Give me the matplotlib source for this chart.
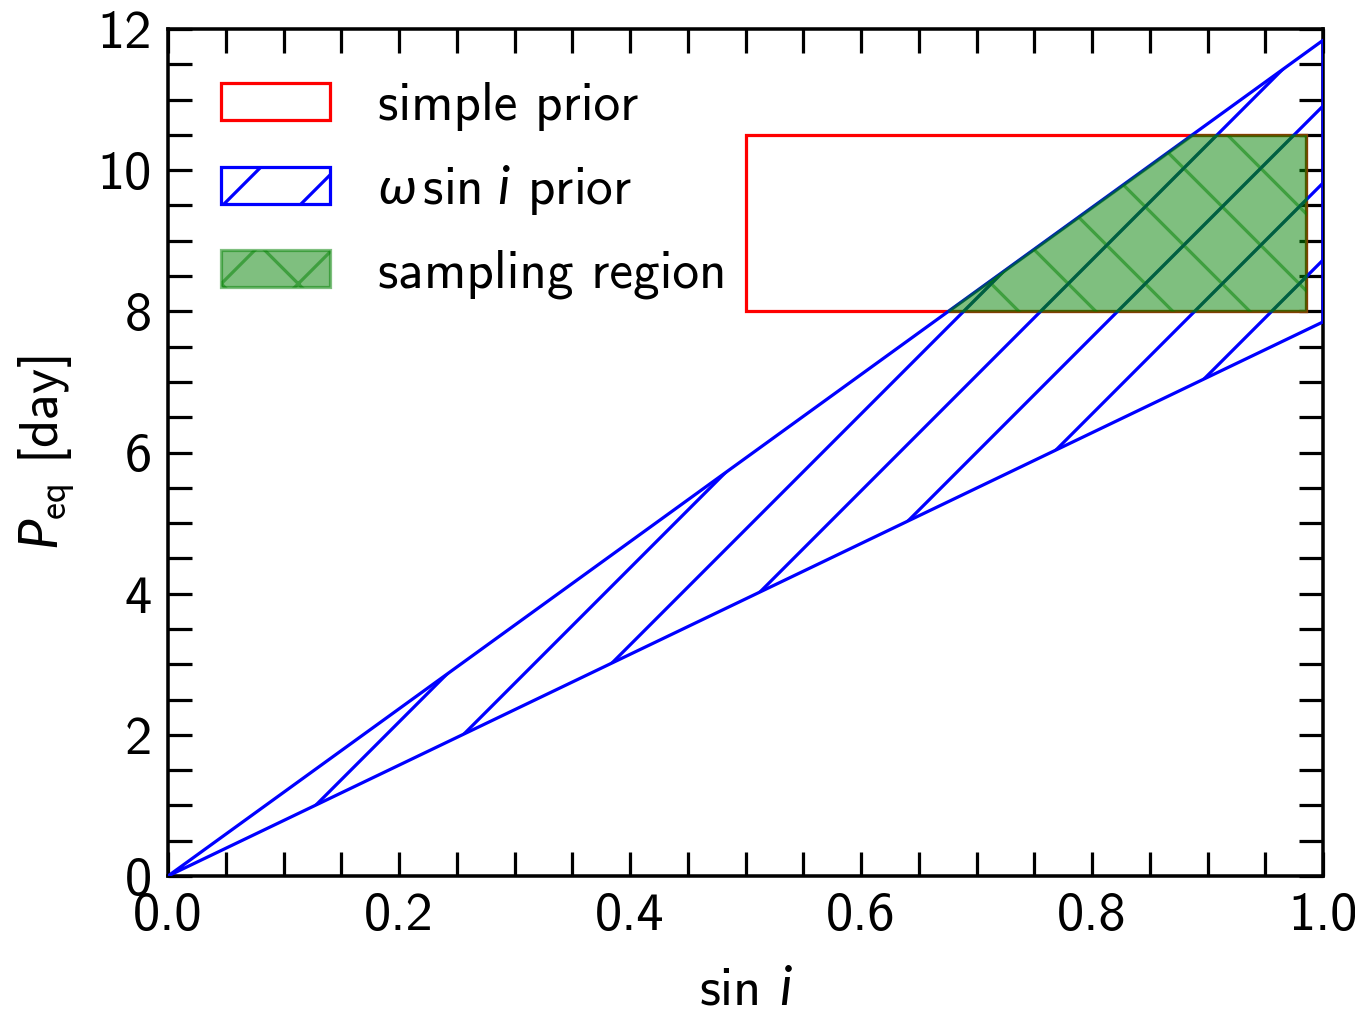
import numpy as np
import matplotlib
matplotlib.use('Agg')
import matplotlib.pyplot as plt
import matplotlib.hatch as mhatch
from matplotlib.path import Path
from matplotlib.patches import Polygon, Rectangle
from matplotlib.ticker import MultipleLocator, FixedLocator, FixedFormatter

# ---- data ----
sin_i_range = [0.0, 1.0]
p_upper = [0.0, 11.84]          # upper edge of omega sin i prior
p_lower = [0.0, 7.85]           # lower edge of omega sin i prior
simple_sin_i = [0.5, 0.985]     # simple prior sin i range
simple_p = [8.0, 10.5]          # simple prior P_eq range
xticks = [0.0, 0.2, 0.4, 0.6, 0.8, 1.0]
xtick_labels = ['0.0', '0.2', '0.4', '0.6', '0.8', '1.0']
yticks = [0, 2, 4, 6, 8, 10, 12]
ytick_labels = ['0', '2', '4', '6', '8', '10', '12']
legend_labels = ['simple prior', r'$\omega\,\sin\,i$ prior', 'sampling region']

DPI = 231

# ---- hatch phase (styling only): shift the diagonal hatch lines ----
NE_PHASE = 43.0 / DPI
SE_PHASE = 14.5 / DPI


def _phased_ks(n, phase):
    if n <= 0:
        return np.array([])
    ks = phase + np.arange(-3 * n, 3 * n + 1) / (n / 2.0)
    return ks[(ks > -1.05) & (ks < 1.05)]


class PhasedNE(mhatch.HatchPatternBase):
    def __init__(self, hatch, density):
        n = int((hatch.count('/') + hatch.count('x') + hatch.count('X')) * density)
        self.ks = _phased_ks(n, NE_PHASE)
        self.num_vertices = 2 * len(self.ks)

    def set_vertices_and_codes(self, vertices, codes):
        s = self.ks / 2.0
        vertices[0::2, 0] = 0.0 + s
        vertices[0::2, 1] = 0.0 - s
        vertices[1::2, 0] = 1.0 + s
        vertices[1::2, 1] = 1.0 - s
        codes[0::2] = Path.MOVETO
        codes[1::2] = Path.LINETO


class PhasedSE(mhatch.HatchPatternBase):
    def __init__(self, hatch, density):
        n = int((hatch.count('\\') + hatch.count('x') + hatch.count('X')) * density)
        self.ks = _phased_ks(n, SE_PHASE)
        self.num_vertices = 2 * len(self.ks)

    def set_vertices_and_codes(self, vertices, codes):
        s = self.ks / 2.0
        vertices[0::2, 0] = 0.0 + s
        vertices[0::2, 1] = 1.0 + s
        vertices[1::2, 0] = 1.0 + s
        vertices[1::2, 1] = 0.0 + s
        codes[0::2] = Path.MOVETO
        codes[1::2] = Path.LINETO


mhatch._hatch_types = [PhasedNE if t is mhatch.NorthEastHatch else
                       PhasedSE if t is mhatch.SouthEastHatch else t
                       for t in mhatch._hatch_types]

plt.rcParams.update({
    'font.family': ['cmss10', 'DejaVu Sans'],
    'font.size': 17,
    'mathtext.fontset': 'custom',
    'mathtext.rm': 'cmss10',
    'mathtext.it': 'Lato:italic',
    'mathtext.bf': 'cmss10',
    'axes.unicode_minus': False,
    'hatch.linewidth': 1.0,
    'axes.linewidth': 1.1,
})

fig = plt.figure(figsize=(1355 / DPI, 1011 / DPI), dpi=DPI)
ax = fig.add_axes([168 / 1355, 1 - 876 / 1011, (1323 - 168) / 1355, (876 - 29) / 1011])

# simple prior
rect = Rectangle((simple_sin_i[0], simple_p[0]), simple_sin_i[1] - simple_sin_i[0],
                 simple_p[1] - simple_p[0], fill=False, edgecolor='r', lw=1.0,
                 label=legend_labels[0], zorder=2)
ax.add_patch(rect)

# omega sin i prior
wsi = ax.fill_between(sin_i_range, p_lower, p_upper, facecolor='none', edgecolor='b',
                      hatch='/', lw=1.0, label=legend_labels[1], zorder=3)

# sampling region = intersection of both priors
slope_up = (p_upper[1] - p_upper[0]) / (sin_i_range[1] - sin_i_range[0])
x_lo = simple_p[0] / slope_up
x_hi = simple_p[1] / slope_up
verts = [(max(x_lo, simple_sin_i[0]), simple_p[0]), (simple_sin_i[1], simple_p[0]),
         (simple_sin_i[1], simple_p[1]), (min(x_hi, simple_sin_i[1]), simple_p[1])]
samp = Polygon(verts, closed=True, facecolor='g', edgecolor='g', alpha=0.5,
               hatch='x', lw=1.0, label=legend_labels[2], zorder=4)
ax.add_patch(samp)

ax.set_xlim(0, 1)
ax.set_ylim(0, 12)
ax.xaxis.set_major_locator(FixedLocator(xticks))
ax.xaxis.set_major_formatter(FixedFormatter(xtick_labels))
ax.yaxis.set_major_locator(FixedLocator(yticks))
ax.yaxis.set_major_formatter(FixedFormatter(ytick_labels))
ax.xaxis.set_minor_locator(MultipleLocator(0.05))
ax.yaxis.set_minor_locator(MultipleLocator(0.5))
ax.tick_params(which='both', direction='in', top=True, right=True,
               length=7.5, width=1.0, labelsize=17, pad=5)

ax.set_xlabel(r'sin $i$', fontsize=17, labelpad=8)
ax.set_ylabel(r'$P_{\rm eq}$ [day]', fontsize=17, labelpad=6.5)

ax.legend(handles=[rect, wsi, samp], loc='upper left', frameon=False, fontsize=16.6,
          handlelength=2.05, handleheight=0.7, handletextpad=0.9, labelspacing=0.6,
          borderaxespad=0.6)

fig.savefig('out.png', dpi=DPI)
